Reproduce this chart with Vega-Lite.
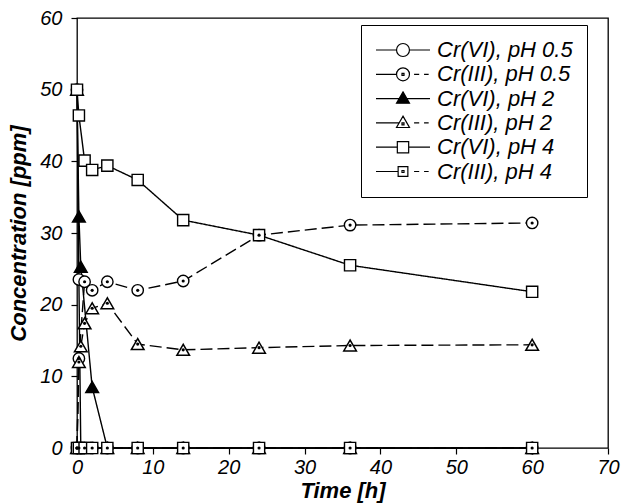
{
  "$schema": "https://vega.github.io/schema/vega-lite/v6.json",
  "width": 531,
  "height": 430,
  "autosize": {"type": "none"},
  "padding": {"left": 77, "top": 18, "right": 16, "bottom": 55},
  "background": "white",
  "data": {
    "values": [
      {"t": 0, "c": 50, "series": "Cr(VI), pH 0.5", "species": "Cr(VI)"},
      {"t": 0.25, "c": 23.5, "series": "Cr(VI), pH 0.5", "species": "Cr(VI)"},
      {"t": 0.5, "c": 0, "series": "Cr(VI), pH 0.5", "species": "Cr(VI)"},
      {"t": 1, "c": 0, "series": "Cr(VI), pH 0.5", "species": "Cr(VI)"},
      {"t": 2, "c": 0, "series": "Cr(VI), pH 0.5", "species": "Cr(VI)"},
      {"t": 4, "c": 0, "series": "Cr(VI), pH 0.5", "species": "Cr(VI)"},
      {"t": 8, "c": 0, "series": "Cr(VI), pH 0.5", "species": "Cr(VI)"},
      {"t": 14, "c": 0, "series": "Cr(VI), pH 0.5", "species": "Cr(VI)"},
      {"t": 24, "c": 0, "series": "Cr(VI), pH 0.5", "species": "Cr(VI)"},
      {"t": 36, "c": 0, "series": "Cr(VI), pH 0.5", "species": "Cr(VI)"},
      {"t": 60, "c": 0, "series": "Cr(VI), pH 0.5", "species": "Cr(VI)"},
      {"t": 0, "c": 0, "series": "Cr(III), pH 0.5", "species": "Cr(III)"},
      {"t": 0.25, "c": 12.5, "series": "Cr(III), pH 0.5", "species": "Cr(III)"},
      {"t": 1, "c": 23.2, "series": "Cr(III), pH 0.5", "species": "Cr(III)"},
      {"t": 2, "c": 22, "series": "Cr(III), pH 0.5", "species": "Cr(III)"},
      {"t": 4, "c": 23.2, "series": "Cr(III), pH 0.5", "species": "Cr(III)"},
      {"t": 8, "c": 22, "series": "Cr(III), pH 0.5", "species": "Cr(III)"},
      {"t": 14, "c": 23.3, "series": "Cr(III), pH 0.5", "species": "Cr(III)"},
      {"t": 24, "c": 29.7, "series": "Cr(III), pH 0.5", "species": "Cr(III)"},
      {"t": 36, "c": 31.1, "series": "Cr(III), pH 0.5", "species": "Cr(III)"},
      {"t": 60, "c": 31.4, "series": "Cr(III), pH 0.5", "species": "Cr(III)"},
      {"t": 0, "c": 50, "series": "Cr(VI), pH 2", "species": "Cr(VI)"},
      {"t": 0.25, "c": 32.3, "series": "Cr(VI), pH 2", "species": "Cr(VI)"},
      {"t": 0.5, "c": 25.3, "series": "Cr(VI), pH 2", "species": "Cr(VI)"},
      {"t": 2, "c": 8.5, "series": "Cr(VI), pH 2", "species": "Cr(VI)"},
      {"t": 4, "c": 0, "series": "Cr(VI), pH 2", "species": "Cr(VI)"},
      {"t": 8, "c": 0, "series": "Cr(VI), pH 2", "species": "Cr(VI)"},
      {"t": 14, "c": 0, "series": "Cr(VI), pH 2", "species": "Cr(VI)"},
      {"t": 24, "c": 0, "series": "Cr(VI), pH 2", "species": "Cr(VI)"},
      {"t": 36, "c": 0, "series": "Cr(VI), pH 2", "species": "Cr(VI)"},
      {"t": 60, "c": 0, "series": "Cr(VI), pH 2", "species": "Cr(VI)"},
      {"t": 0, "c": 0, "series": "Cr(III), pH 2", "species": "Cr(III)"},
      {"t": 0.25, "c": 12, "series": "Cr(III), pH 2", "species": "Cr(III)"},
      {"t": 0.5, "c": 14.2, "series": "Cr(III), pH 2", "species": "Cr(III)"},
      {"t": 1, "c": 17.4, "series": "Cr(III), pH 2", "species": "Cr(III)"},
      {"t": 2, "c": 19.5, "series": "Cr(III), pH 2", "species": "Cr(III)"},
      {"t": 4, "c": 20.2, "series": "Cr(III), pH 2", "species": "Cr(III)"},
      {"t": 8, "c": 14.5, "series": "Cr(III), pH 2", "species": "Cr(III)"},
      {"t": 14, "c": 13.7, "series": "Cr(III), pH 2", "species": "Cr(III)"},
      {"t": 24, "c": 14, "series": "Cr(III), pH 2", "species": "Cr(III)"},
      {"t": 36, "c": 14.3, "series": "Cr(III), pH 2", "species": "Cr(III)"},
      {"t": 60, "c": 14.4, "series": "Cr(III), pH 2", "species": "Cr(III)"},
      {"t": 0, "c": 50, "series": "Cr(VI), pH 4", "species": "Cr(VI)"},
      {"t": 0.25, "c": 46.4, "series": "Cr(VI), pH 4", "species": "Cr(VI)"},
      {"t": 1, "c": 40.1, "series": "Cr(VI), pH 4", "species": "Cr(VI)"},
      {"t": 2, "c": 38.8, "series": "Cr(VI), pH 4", "species": "Cr(VI)"},
      {"t": 4, "c": 39.4, "series": "Cr(VI), pH 4", "species": "Cr(VI)"},
      {"t": 8, "c": 37.4, "series": "Cr(VI), pH 4", "species": "Cr(VI)"},
      {"t": 14, "c": 31.8, "series": "Cr(VI), pH 4", "species": "Cr(VI)"},
      {"t": 24, "c": 29.7, "series": "Cr(VI), pH 4", "species": "Cr(VI)"},
      {"t": 36, "c": 25.5, "series": "Cr(VI), pH 4", "species": "Cr(VI)"},
      {"t": 60, "c": 21.8, "series": "Cr(VI), pH 4", "species": "Cr(VI)"},
      {"t": 0, "c": 0, "series": "Cr(III), pH 4", "species": "Cr(III)"},
      {"t": 0.25, "c": 0, "series": "Cr(III), pH 4", "species": "Cr(III)"},
      {"t": 1, "c": 0, "series": "Cr(III), pH 4", "species": "Cr(III)"},
      {"t": 2, "c": 0, "series": "Cr(III), pH 4", "species": "Cr(III)"},
      {"t": 4, "c": 0, "series": "Cr(III), pH 4", "species": "Cr(III)"},
      {"t": 8, "c": 0, "series": "Cr(III), pH 4", "species": "Cr(III)"},
      {"t": 14, "c": 0, "series": "Cr(III), pH 4", "species": "Cr(III)"},
      {"t": 24, "c": 0, "series": "Cr(III), pH 4", "species": "Cr(III)"},
      {"t": 36, "c": 0, "series": "Cr(III), pH 4", "species": "Cr(III)"},
      {"t": 60, "c": 0, "series": "Cr(III), pH 4", "species": "Cr(III)"}
    ]
  },
  "encoding": {
    "x": {
      "field": "t", "type": "quantitative",
      "scale": {"domain": [0, 70], "nice": false, "zero": false},
      "axis": {"values": [0, 10, 20, 30, 40, 50, 60, 70], "title": "Time [h]", "titleX": 265.5, "titleY": 49, "titleBaseline": "alphabetic", "labelPadding": 3}
    },
    "y": {
      "field": "c", "type": "quantitative",
      "scale": {"domain": [0, 60], "nice": false},
      "axis": {"values": [0, 10, 20, 30, 40, 50, 60], "title": "Concentration [ppm]", "titleAngle": -90, "titleX": -52, "titleY": 215, "titleBaseline": "alphabetic", "titleAlign": "center", "labelPadding": 9}
    }
  },
  "layer": [
    {
      "mark": {"type": "line", "stroke": "black", "strokeWidth": 1.4},
      "encoding": {
        "detail": {"field": "series"},
        "strokeDash": {"field": "species", "type": "nominal", "scale": {"domain": ["Cr(VI)", "Cr(III)"], "range": [[1, 0], [12, 5]]}, "legend": null}
      }
    },
    {
      "transform": [{"filter": "datum.series == 'Cr(VI), pH 0.5' || datum.series == 'Cr(III), pH 0.5'"}],
      "mark": {"type": "point", "shape": "circle", "size": 130, "fill": "white", "fillOpacity": 1, "opacity": 1, "stroke": "black", "strokeWidth": 1.4, "filled": false}
    },
    {
      "transform": [{"filter": "datum.series == 'Cr(III), pH 2'"}],
      "mark": {"type": "point", "shape": "triangle-up", "size": 160, "fill": "white", "fillOpacity": 1, "opacity": 1, "stroke": "black", "strokeWidth": 1.5, "filled": false}
    },
    {
      "transform": [{"filter": "datum.series == 'Cr(VI), pH 2'"}],
      "mark": {"type": "point", "shape": "triangle-up", "size": 160, "fill": "black", "fillOpacity": 1, "opacity": 1, "stroke": "black", "strokeWidth": 1.5, "filled": false}
    },
    {
      "transform": [{"filter": "datum.series == 'Cr(VI), pH 4' || datum.series == 'Cr(III), pH 4'"}],
      "mark": {"type": "point", "shape": "square", "size": 125, "fill": "white", "fillOpacity": 1, "opacity": 1, "stroke": "black", "strokeWidth": 1.4, "filled": false}
    },
    {
      "transform": [{"filter": "datum.species == 'Cr(III)'"}],
      "mark": {"type": "point", "shape": "circle", "size": 10, "fill": "black", "fillOpacity": 1, "opacity": 1, "strokeWidth": 0, "filled": true}
    },
    {
      "transform": [{"filter": "datum.t < 0"}],
      "mark": {"type": "point", "strokeWidth": 1.2, "filled": false, "opacity": 1},
      "encoding": {
        "shape": {
          "field": "series", "type": "nominal",
          "scale": {
            "domain": ["Cr(VI), pH 0.5", "Cr(III), pH 0.5", "Cr(VI), pH 2", "Cr(III), pH 2", "Cr(VI), pH 4", "Cr(III), pH 4"],
            "range": [
              "M-1,0H9.26M15.74,0H26M15.74,0C15.74,1.79,14.29,3.24,12.5,3.24C10.71,3.24,9.26,1.79,9.26,0C9.26,-1.79,10.71,-3.24,12.5,-3.24C14.29,-3.24,15.74,-1.79,15.74,0Z",
              "M-1,0H9.26M18.04,0H20.6M23.03,0H25.33M15.74,0C15.74,1.79,14.29,3.24,12.5,3.24C10.71,3.24,9.26,1.79,9.26,0C9.26,-1.79,10.71,-3.24,12.5,-3.24C14.29,-3.24,15.74,-1.79,15.74,0ZM12,-0.5H13V0.5H12Z",
              "M-1,0H10.61M14.39,0H26M12.5,-3.375L15.74,2.295L9.26,2.295Z",
              "M-1,0H10.61M18.04,0H20.6M23.03,0H25.33M12.5,-3.375L15.74,2.295L9.26,2.295ZM12,0H13V1H12Z",
              "M-1,0H9.665M15.335,0H26M9.665,-2.835H15.335V2.835H9.665Z",
              "M-1,0H10.07M18.04,0H20.6M23.03,0H25.33M10.07,-2.43H14.93V2.43H10.07ZM12,-0.5H13V0.5H12Z"
            ]
          },
          "legend": {"title": null, "orient": "none", "legendX": 284, "legendY": 7}
        },
        "fill": {
          "field": "series", "type": "nominal",
          "scale": {
            "domain": ["Cr(VI), pH 0.5", "Cr(III), pH 0.5", "Cr(VI), pH 2", "Cr(III), pH 2", "Cr(VI), pH 4", "Cr(III), pH 4"],
            "range": ["white", "white", "black", "white", "white", "white"]
          },
          "legend": {"title": null, "orient": "none", "legendX": 284, "legendY": 7}
        },
        "stroke": {
          "field": "series", "type": "nominal",
          "scale": {
            "domain": ["Cr(VI), pH 0.5", "Cr(III), pH 0.5", "Cr(VI), pH 2", "Cr(III), pH 2", "Cr(VI), pH 4", "Cr(III), pH 4"],
            "range": ["black", "black", "black", "black", "black", "black"]
          },
          "legend": {"title": null, "orient": "none", "legendX": 284, "legendY": 7}
        }
      }
    }
  ],
  "config": {
    "view": {"stroke": "black", "strokeWidth": 1.3, "fill": "white"},
    "axis": {
      "domain": false,
      "grid": false,
      "ticks": true,
      "tickSize": 6,
      "tickColor": "black",
      "tickWidth": 1.2,
      "labelFont": "Liberation Sans",
      "labelFontStyle": "italic",
      "labelFontSize": 20,
      "labelColor": "black",
      "titleFont": "Liberation Sans",
      "titleFontStyle": "italic",
      "titleFontWeight": "bold",
      "titleFontSize": 22,
      "titleColor": "black",
      "labelFlush": false,
      "labelOverlap": false
    },
    "legend": {
      "symbolSize": 16,
      "symbolOffset": -8,
      "symbolStrokeColor": "black",
      "symbolStrokeWidth": 1.2,
      "symbolOpacity": 1,
      "rowPadding": 2.3,
      "padding": 14,
      "labelOffset": 48,
      "labelFont": "Liberation Sans",
      "labelFontStyle": "italic",
      "labelFontSize": 22,
      "labelColor": "black",
      "labelLimit": 300,
      "fillColor": "white",
      "strokeColor": "black"
    }
  }
}
